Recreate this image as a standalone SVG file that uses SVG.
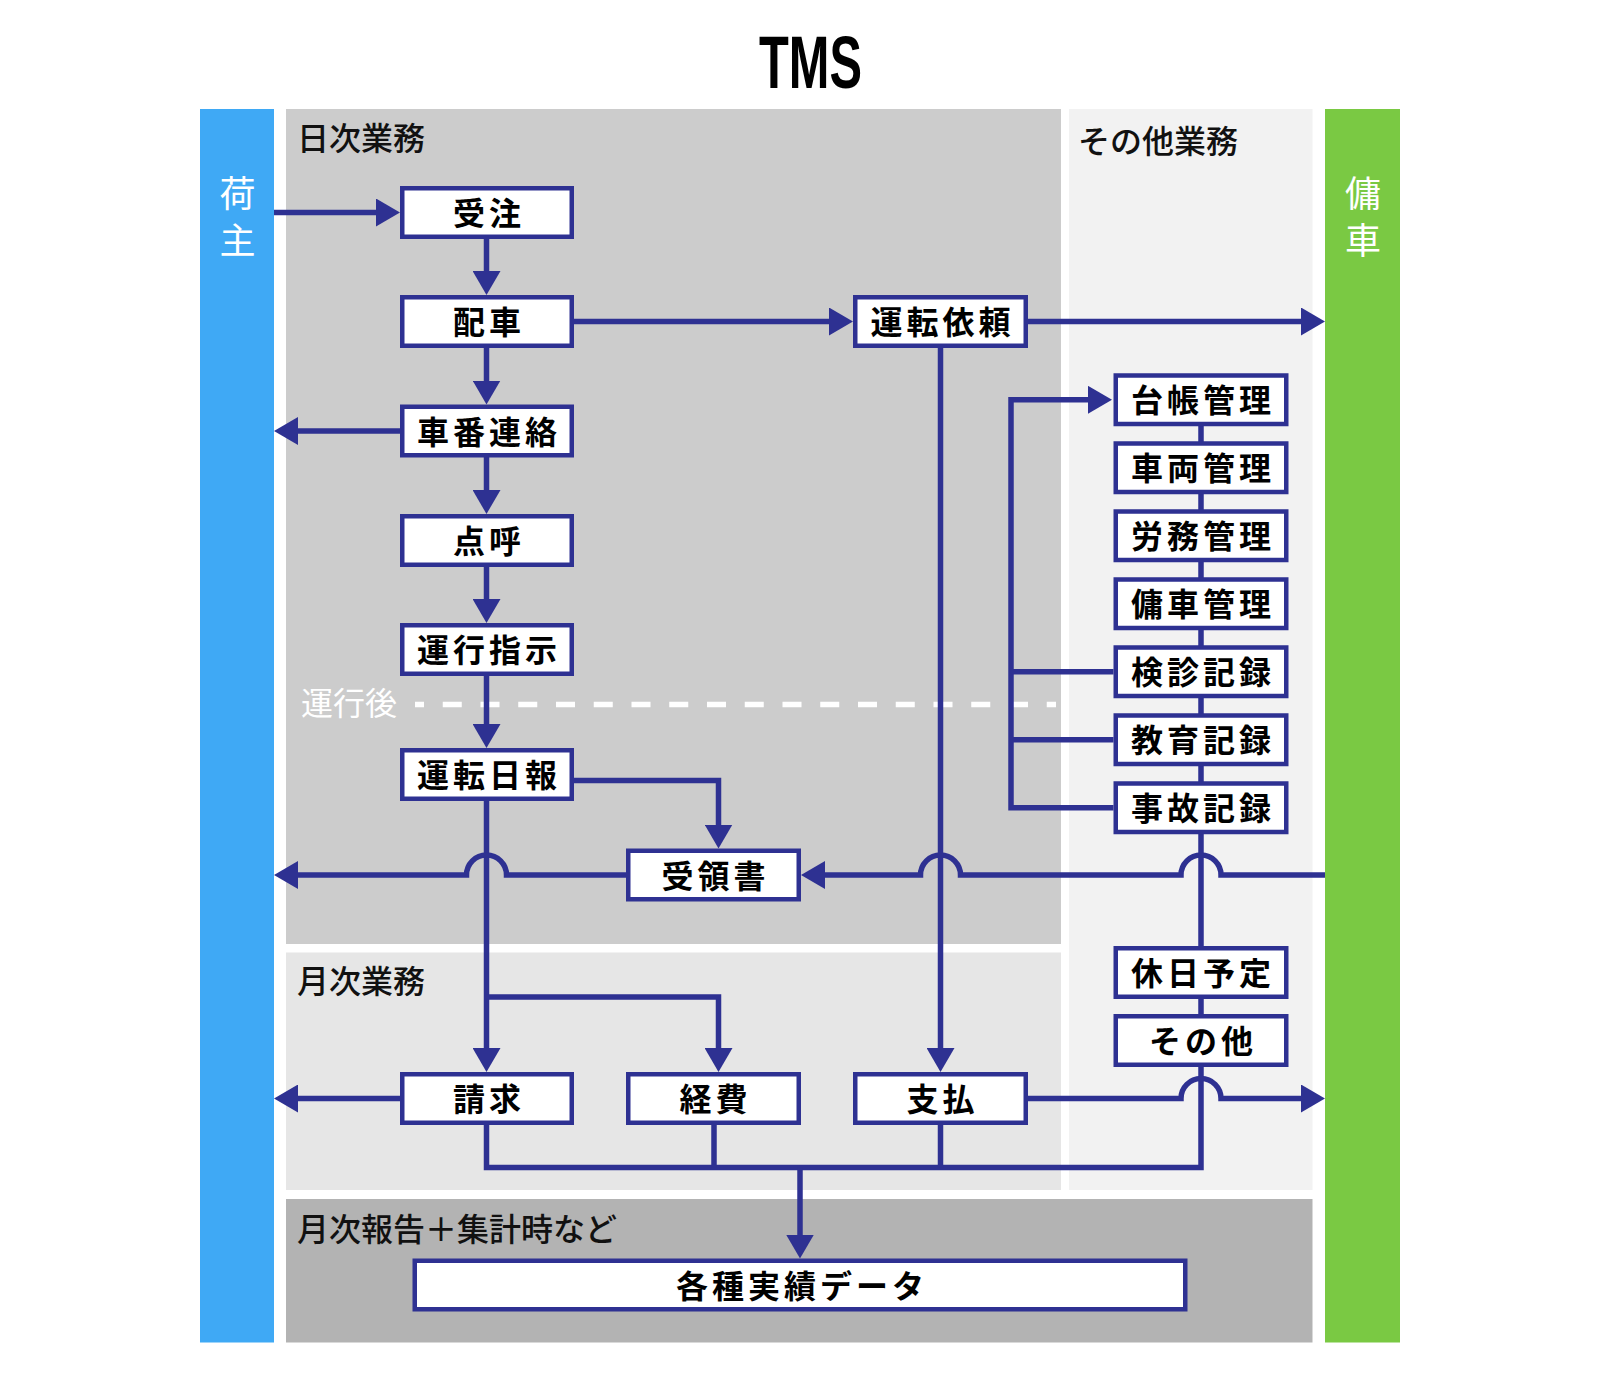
<svg xmlns="http://www.w3.org/2000/svg" width="1600" height="1380" viewBox="0 0 1600 1380">
<style>
.box{fill:#fff;stroke:#2e3192;stroke-width:4.5}
.nt{font-family:"Noto Sans CJK JP","Noto Sans CJK SC",sans-serif;font-weight:700;font-size:32px;letter-spacing:4px;fill:#000;text-anchor:middle;dominant-baseline:central}
.lbl{font-family:"Noto Sans CJK JP","Noto Sans CJK SC",sans-serif;font-weight:500;font-size:32px;fill:#111;dominant-baseline:central}
.side{font-family:"Noto Sans CJK JP","Noto Sans CJK SC",sans-serif;font-weight:400;font-size:36px;fill:#fff;text-anchor:middle;dominant-baseline:central}
.ln{fill:none;stroke:#2e3192;stroke-width:5.5;stroke-linejoin:miter}
.ar{marker-end:url(#arr)}
</style>
<defs>
<marker id="arr" markerUnits="userSpaceOnUse" markerWidth="24" markerHeight="28" viewBox="0 0 24 28" refX="14" refY="14" orient="auto">
<path d="M0,0 L24,14 L0,28 Z" fill="#2e3192"/>
</marker>
</defs>
<rect width="1600" height="1380" fill="#fff"/>
<text x="810.5" y="87.7" font-family="Liberation Sans, Arial, sans-serif" font-weight="700" font-size="74" textLength="103" lengthAdjust="spacingAndGlyphs" text-anchor="middle" fill="#000">TMS</text>
<g id="panels">
<rect x="200" y="109" width="74" height="1233.5" fill="#3fa9f5"/>
<rect x="1325" y="109" width="75" height="1233.5" fill="#7ac943"/>
<rect x="286" y="109" width="775" height="835" fill="#cccccc"/>
<rect x="1069" y="109" width="243.5" height="1081" fill="#f2f2f2"/>
<rect x="286" y="952.5" width="775" height="237.5" fill="#e6e6e6"/>
<rect x="286" y="1199" width="1026.5" height="143.5" fill="#b3b3b3"/>
<text class="side" x="237.5" y="190.5">荷</text>
<text class="side" x="237.5" y="237.5">主</text>
<text class="side" x="1363" y="190.5">傭</text>
<text class="side" x="1363" y="237.5">車</text>
<text class="lbl" x="297" y="135.5">日次業務</text>
<text class="lbl" x="1078" y="139">その他業務</text>
<text class="lbl" x="297" y="979">月次業務</text>
<text class="lbl" x="297" y="1227">月次報告＋集計時など</text>
<path d="M415,704.5 H1056" fill="none" stroke="#fff" stroke-width="5.5" stroke-dasharray="19 18.75" stroke-dashoffset="10"/>
<text class="lbl" x="301" y="701" style="fill:#fff;font-weight:400">運行後</text>
</g>
<g id="connectors">
<path class="ln ar" d="M274,212.5 H390"/>
<path class="ln ar" d="M486.5,239 V285"/>
<path class="ln ar" d="M574,321.5 H843"/>
<path class="ln ar" d="M1028,321.5 H1315"/>
<path class="ln ar" d="M486.5,348 V394.5"/>
<path class="ln ar" d="M400,431 H284"/>
<path class="ln ar" d="M486.5,457 V504"/>
<path class="ln ar" d="M486.5,567 V613"/>
<path class="ln ar" d="M486.5,676 V738"/>
<path class="ln ar" d="M574,780.5 H718.5 V838.5"/>
<path class="ln ar" d="M486.5,801 V1062"/>
<path class="ln ar" d="M486.5,997 H718.5 V1062"/>
<path class="ln ar" d="M626,875 H506.5 A20,20 0 0 0 466.5,875 H284"/>
<path class="ln ar" d="M1325,875 H1221 A20,20 0 0 0 1181,875 H960.5 A20,20 0 0 0 920.5,875 H811"/>
<path class="ln ar" d="M940.5,348 V1062"/>
<path class="ln" d="M1201,426 V1167.5 H486.5 V1125"/>
<path class="ln ar" d="M1113.5,807.8 H1011 V399.8 H1102"/>
<path class="ln" d="M1113.5,671.8 H1011 M1113.5,739.8 H1011"/>
<path class="ln ar" d="M400,1098.5 H284"/>
<path class="ln ar" d="M1028,1098.5 H1181 A20,20 0 0 1 1221,1098.5 H1315"/>
<path class="ln" d="M714,1125 V1167.5 M940.5,1125 V1167.5"/>
<path class="ln ar" d="M800,1167.5 V1248.5"/>
</g>
<g id="n-juchu"><rect class="box" x="402.25" y="188.25" width="169.5" height="48.5"/><text class="nt" x="489" y="211">受注</text></g>
<g id="n-haisha"><rect class="box" x="402.25" y="297.25" width="169.5" height="48.5"/><text class="nt" x="489" y="320">配車</text></g>
<g id="n-shaban"><rect class="box" x="402.25" y="406.75" width="169.5" height="48.5"/><text class="nt" x="489" y="429.5">車番連絡</text></g>
<g id="n-tenko"><rect class="box" x="402.25" y="516.25" width="169.5" height="48.5"/><text class="nt" x="489" y="539">点呼</text></g>
<g id="n-unkoshiji"><rect class="box" x="402.25" y="625.25" width="169.5" height="48.5"/><text class="nt" x="489" y="648">運行指示</text></g>
<g id="n-untennippo"><rect class="box" x="402.25" y="750.25" width="169.5" height="48.5"/><text class="nt" x="489" y="773">運転日報</text></g>
<g id="n-seikyu"><rect class="box" x="402.25" y="1074.25" width="169.5" height="48.5"/><text class="nt" x="489" y="1097">請求</text></g>
<g id="n-untenirai"><rect class="box" x="855.25" y="297.25" width="170.5" height="48.5"/><text class="nt" x="942.5" y="320">運転依頼</text></g>
<g id="n-shiharai"><rect class="box" x="855.25" y="1074.25" width="170.5" height="48.5"/><text class="nt" x="942.5" y="1097">支払</text></g>
<g id="n-juryosho"><rect class="box" x="628.25" y="850.75" width="170.5" height="48.5"/><text class="nt" x="715.5" y="873.5">受領書</text></g>
<g id="n-keihi"><rect class="box" x="628.25" y="1074.25" width="170.5" height="48.5"/><text class="nt" x="715.5" y="1097">経費</text></g>
<g id="n-daicho"><rect class="box" x="1115.75" y="375.5" width="170.5" height="48.5"/><text class="nt" x="1203" y="398.3">台帳管理</text></g>
<g id="n-sharyo"><rect class="box" x="1115.75" y="443.5" width="170.5" height="48.5"/><text class="nt" x="1203" y="466.3">車両管理</text></g>
<g id="n-romu"><rect class="box" x="1115.75" y="511.5" width="170.5" height="48.5"/><text class="nt" x="1203" y="534.3">労務管理</text></g>
<g id="n-yosha"><rect class="box" x="1115.75" y="579.5" width="170.5" height="48.5"/><text class="nt" x="1203" y="602.3">傭車管理</text></g>
<g id="n-kenshin"><rect class="box" x="1115.75" y="647.5" width="170.5" height="48.5"/><text class="nt" x="1203" y="670.3">検診記録</text></g>
<g id="n-kyoiku"><rect class="box" x="1115.75" y="715.5" width="170.5" height="48.5"/><text class="nt" x="1203" y="738.3">教育記録</text></g>
<g id="n-jiko"><rect class="box" x="1115.75" y="783.5" width="170.5" height="48.5"/><text class="nt" x="1203" y="806.3">事故記録</text></g>
<g id="n-kyujitsu"><rect class="box" x="1115.75" y="948.25" width="170.5" height="48.5"/><text class="nt" x="1203" y="971">休日予定</text></g>
<g id="n-sonota"><rect class="box" x="1115.75" y="1016.25" width="170.5" height="48.5"/><text class="nt" x="1203" y="1039">その他</text></g>
<g id="n-jisseki"><rect class="box" x="414.75" y="1260.75" width="770.5" height="48.5"/><text class="nt" x="802" y="1283.5">各種実績データ</text></g>
</svg>
